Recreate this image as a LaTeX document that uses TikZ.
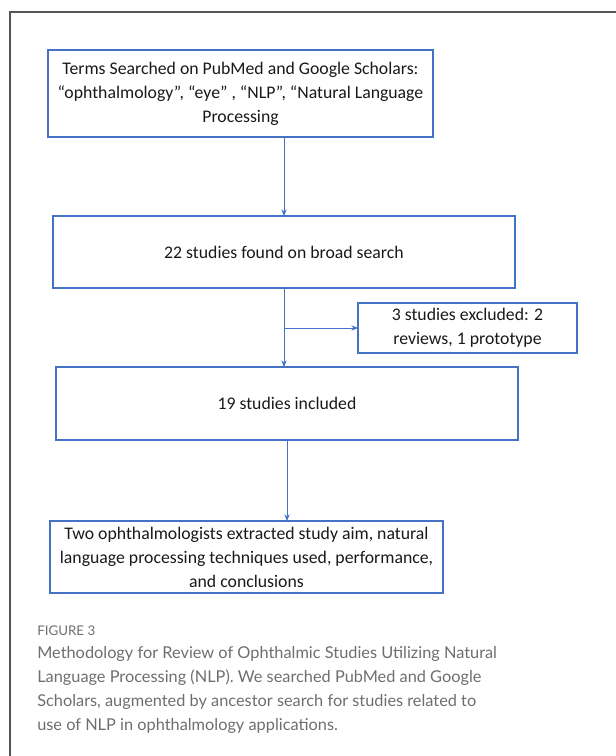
\documentclass[tikz,border=0pt]{standalone}
\usepackage{fontspec}
\setmainfont{Carlito}
\newfontfamily\capfont{Lato}
\usepackage{tikz}
\usetikzlibrary{arrows.meta}

\definecolor{boxblue}{HTML}{4472C4}
\definecolor{capgray}{HTML}{6E6E6E}
\definecolor{framegray}{HTML}{555555}

\begin{document}
\begin{tikzpicture}[x=0.75pt, y=-0.75pt,
    flowbox/.style={draw=boxblue, line width=0.8pt, outer sep=0pt,
        inner sep=2pt, anchor=north west, align=center,
        font=\fontsize{13.3}{18}\selectfont, text=black!90},
    flowarrow/.style={draw=boxblue, line width=0.6pt,
        -{Stealth[length=5pt, width=4pt]}}
]
    \useasboundingbox (0,0) rectangle (616,756);

    % frame
    \draw[framegray, line width=0.9pt] (616,12) -- (10,12) -- (10,756);

    % terms searched
    \node [flowbox,
        minimum width=385*0.75pt,
        minimum height=87*0.75pt
    ] (terms) at (48,50) {Terms Searched on PubMed and Google Scholars:\\
        “ophthalmology”, “eye” , “NLP”, “Natural Language\\
        Processing};

    % broad search
    \node [flowbox,
        minimum width=462*0.75pt,
        minimum height=72*0.75pt
    ] (found) at (53,216) {22 studies found on broad search};

    % excluded
    \node [flowbox,
        minimum width=219*0.75pt,
        minimum height=50*0.75pt
    ] (excluded) at (358,303) {3 studies excluded: 2\\ reviews, 1 prototype};

    % included
    \node [flowbox,
        minimum width=462*0.75pt,
        minimum height=73*0.75pt
    ] (included) at (56,367) {19 studies included};

    % extraction
    \node [flowbox,
        minimum width=393*0.75pt,
        minimum height=72*0.75pt
    ] (extract) at (50,521) {Two ophthalmologists extracted study aim, natural\\
        language processing techniques used, performance,\\
        and conclusions};

    % arrows
    \draw[flowarrow] (found.north |- terms.south) -- (found.north);

    \draw[flowarrow] (found.south) -- (found.south |- included.north);

    \coordinate (split) at (found.south |- excluded.west);
    \draw[flowarrow] (split) -- (excluded.west);

    \draw[flowarrow] (included.south) -- (included.south |- extract.north);

    % caption
    \node[anchor=base west, text=capgray, inner sep=0pt,
        font=\capfont\fontsize{10}{18}\selectfont] (figlabel) at (37,635) {FIGURE 3};
    \node[anchor=base west, text=capgray, inner sep=0pt, align=left,
        font=\capfont\fontsize{12.25}{18}\selectfont] (caption) at (37,730)
        {Methodology for Review of Ophthalmic Studies Utilizing Natural\\
        Language Processing (NLP). We searched PubMed and Google\\
        Scholars, augmented by ancestor search for studies related to\\
        use of NLP in ophthalmology applications.};

\end{tikzpicture}
\end{document}
